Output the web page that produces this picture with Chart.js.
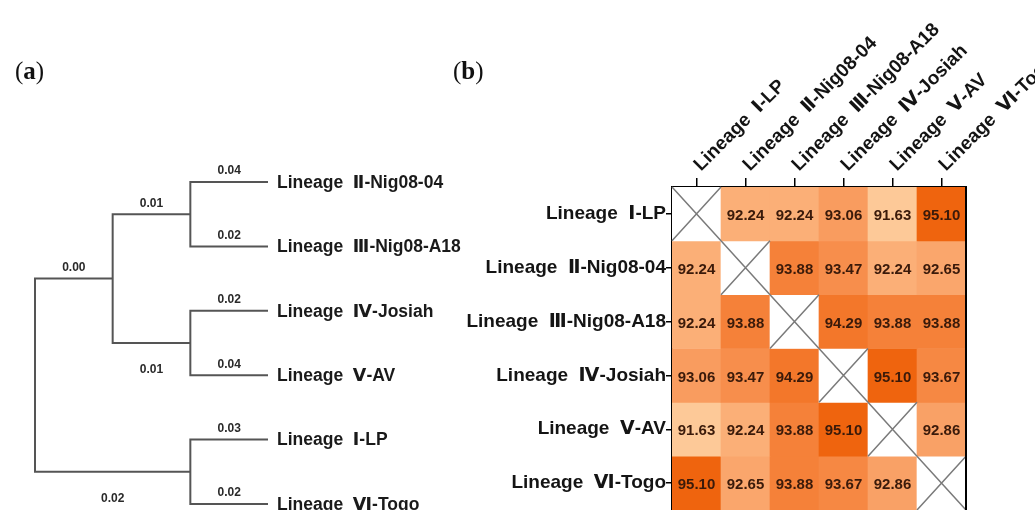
<!DOCTYPE html>
<html>
<head>
<meta charset="utf-8">
<script src="https://cdn.jsdelivr.net/npm/chart.js@4.4.0/dist/chart.umd.min.js"></script>
<style>
  html, body { margin: 0; padding: 0; background: #fff; overflow: hidden; }
  #wrap { position: relative; width: 1035px; height: 510px; }
  canvas { position: absolute; top: 0; }
  #tree { left: 0; }
  #heat { left: 440px; }
</style>
</head>
<body>
<div id="wrap">
  <canvas id="heat" width="595" height="510"></canvas>
  <canvas id="tree" width="480" height="510"></canvas>
</div>
<script>
// ---- panel (a): tree, leaves listed top to bottom ----
const leafNames = ["Lineage  Ⅱ-Nig08-04", "Lineage  Ⅲ-Nig08-A18", "Lineage  Ⅳ-Josiah",
                   "Lineage  Ⅴ-AV", "Lineage  Ⅰ-LP", "Lineage  Ⅵ-Togo"];
const leafBranch = ["0.04", "0.02", "0.02", "0.04", "0.03", "0.02"];
// internal nodes: children ids (L = leaf, N = node) and branch label above it
const cladeChildren = [["L0", "L1"], ["L2", "L3"], ["N0", "N1"], ["L4", "L5"], ["N2", "N3"]];
const cladeBranch = ["0.01", "0.01", "0.00", "0.02", null];

// ---- panel (b): identity matrix ----
const lineages = ["Lineage  Ⅰ-LP", "Lineage  Ⅱ-Nig08-04", "Lineage  Ⅲ-Nig08-A18",
                  "Lineage  Ⅳ-Josiah", "Lineage  Ⅴ-AV", "Lineage  Ⅵ-Togo"];
const rowLP     = [null, 92.24, 92.24, 93.06, 91.63, 95.10];
const rowNig04  = [92.24, null, 93.88, 93.47, 92.24, 92.65];
const rowNigA18 = [92.24, 93.88, null, 94.29, 93.88, 93.88];
const rowJosiah = [93.06, 93.47, 94.29, null, 95.10, 93.67];
const rowAV     = [91.63, 92.24, 93.88, 95.10, null, 92.86];
const rowTogo   = [95.10, 92.65, 93.88, 93.67, 92.86, null];
const identity = [rowLP, rowNig04, rowNigA18, rowJosiah, rowAV, rowTogo];

const SANS = "'Liberation Sans', Arial, 'DejaVu Sans', sans-serif";
const SERIF = "'Liberation Serif', 'DejaVu Serif', serif";

// work out x (height based) and y (mean of children) for every node
const info = {};
function nodeInfo(id) {
  if (info[id]) return info[id];
  let res;
  if (id[0] === "L") {
    const i = +id.slice(1);
    res = { h: 0, y: i, label: leafBranch[i], leaf: true };
  } else {
    const k = +id.slice(1);
    const kids = cladeChildren[k].map(nodeInfo);
    res = {
      h: 1 + Math.max(...kids.map(c => c.h)),
      y: kids.reduce((s, c) => s + c.y, 0) / kids.length,
      label: cladeBranch[k], kids, leaf: false
    };
  }
  info[id] = res;
  return res;
}
const rootId = "N" + (cladeChildren.length - 1);
const maxH = nodeInfo(rootId).h;
const xOf = n => maxH - n.h;

const treeSets = cladeChildren.map((kids, k) => {
  const n = nodeInfo("N" + k);
  const a = nodeInfo(kids[0]), b = nodeInfo(kids[1]);
  return {
    data: [
      { x: xOf(a), y: a.y }, { x: xOf(n), y: a.y },
      { x: xOf(n), y: b.y }, { x: xOf(b), y: b.y }
    ],
    showLine: true, pointRadius: 0, borderColor: "#555", borderWidth: 2,
    clip: false, tension: 0
  };
});

function panelTag(ctx, letter, x) {
  ctx.textAlign = "left";
  ctx.textBaseline = "alphabetic";
  ctx.fillStyle = "#111";
  ctx.font = "25px " + SERIF;
  ctx.fillText("(", x, 79);
  let w = ctx.measureText("(").width;
  ctx.font = "bold 25px " + SERIF;
  ctx.fillText(letter, x + w, 79);
  w += ctx.measureText(letter).width;
  ctx.font = "25px " + SERIF;
  ctx.fillText(")", x + w, 79);
}

const treeText = {
  id: "treeText",
  afterDatasetsDraw(chart) {
    const { ctx, scales: { x, y } } = chart;
    ctx.save();
    ctx.fillStyle = "#2a2a2a";
    ctx.textAlign = "center";
    ctx.textBaseline = "middle";
    ctx.font = "bold 12px " + SANS;
    cladeChildren.forEach((kids, k) => {
      const n = nodeInfo("N" + k);
      kids.forEach((id, ci) => {
        const c = nodeInfo(id);
        const px = x.getPixelForValue((xOf(n) + xOf(c)) / 2);
        const py = y.getPixelForValue(c.y);
        const dy = (!c.leaf && ci === 1) ? 27 : -11;
        ctx.fillText(c.label, px, py + dy);
      });
    });
    ctx.textAlign = "left";
    ctx.font = "bold 17.5px " + SANS;
    ctx.fillStyle = "#1a1a1a";
    leafNames.forEach((name, i) => {
      ctx.fillText(name, x.getPixelForValue(maxH) + 9, y.getPixelForValue(i) + 1);
    });
    panelTag(ctx, "a", 15);
    ctx.restore();
  }
};

new Chart(document.getElementById("tree"), {
  type: "scatter",
  data: { datasets: treeSets },
  options: {
    responsive: false,
    animation: false,
    layout: { padding: { left: 35, right: 212, top: 182, bottom: 6 } },
    plugins: { legend: { display: false }, tooltip: { enabled: false } },
    scales: {
      x: { type: "linear", min: 0, max: maxH, display: false },
      y: { type: "linear", min: 0, max: leafNames.length - 1, reverse: true, display: false }
    }
  },
  plugins: [treeText]
});

// ---- heat map ----
const colorStops = [
  [91.6, [253, 202, 154]],
  [92.2, [251, 176, 120]],
  [93.0, [249, 158, 98]],
  [93.9, [245, 128, 56]],
  [95.1, [239, 100, 14]]
];
function cellColor(v) {
  if (v === null) return "#ffffff";
  if (v <= colorStops[0][0]) return "rgb(" + colorStops[0][1].join(",") + ")";
  for (let i = 1; i < colorStops.length; i++) {
    const [v1, c1] = colorStops[i];
    const [v0, c0] = colorStops[i - 1];
    if (v <= v1) {
      const t = (v - v0) / (v1 - v0);
      const c = c0.map((a, j) => Math.round(a + (c1[j] - a) * t));
      return "rgb(" + c.join(",") + ")";
    }
  }
  return "rgb(" + colorStops[colorStops.length - 1][1].join(",") + ")";
}

const heatSets = identity.map((row, i) => ({
  data: row.map(() => [i, i + 1]),
  backgroundColor: row.map(cellColor),
  borderWidth: 0,
  grouped: false,
  categoryPercentage: 1,
  barPercentage: 1
}));

const heatText = {
  id: "heatText",
  afterDatasetsDraw(chart) {
    const { ctx, chartArea } = chart;
    ctx.save();
    ctx.textAlign = "center";
    ctx.textBaseline = "middle";
    identity.forEach((row, i) => {
      const meta = chart.getDatasetMeta(i);
      row.forEach((v, j) => {
        const bar = meta.data[j];
        const top = Math.min(bar.y, bar.base), bot = Math.max(bar.y, bar.base);
        const l = bar.x - bar.width / 2, r = bar.x + bar.width / 2;
        if (v === null) {
          ctx.strokeStyle = "#7a7a7a";
          ctx.lineWidth = 1.5;
          ctx.beginPath();
          ctx.moveTo(l, top); ctx.lineTo(r, bot);
          ctx.moveTo(r, top); ctx.lineTo(l, bot);
          ctx.stroke();
        } else {
          ctx.fillStyle = "#3a1a0a";
          ctx.font = "bold 15px " + SANS;
          ctx.fillText(v.toFixed(2), bar.x, (top + bot) / 2 + 2);
        }
      });
    });
    // right side of the frame
    ctx.strokeStyle = "#000";
    ctx.lineWidth = 2;
    ctx.beginPath();
    ctx.moveTo(chartArea.right, chartArea.top - 1);
    ctx.lineTo(chartArea.right, chartArea.bottom);
    ctx.stroke();
    panelTag(ctx, "b", 13);
    ctx.restore();
  }
};

new Chart(document.getElementById("heat"), {
  type: "bar",
  data: { labels: lineages, datasets: heatSets },
  options: {
    responsive: false,
    animation: false,
    layout: { padding: { left: 0, right: 69, top: 0, bottom: 0 } },
    plugins: { legend: { display: false }, tooltip: { enabled: false } },
    scales: {
      x: {
        type: "category",
        position: "top",
        offset: true,
        grid: { offset: false, drawOnChartArea: false, drawTicks: true, tickLength: 9, color: "#000", lineWidth: 1.5 },
        border: { display: true, color: "#000", width: 2 },
        ticks: {
          autoSkip: false, minRotation: 45, maxRotation: 45, padding: 2, labelOffset: 17,
          color: "#141414", font: { family: SANS, size: 19, weight: "bold" }
        },
        afterFit(scale) {
          scale.height = 187;
          scale.paddingLeft = 0; scale.paddingRight = 0;
          scale.paddingTop = 0; scale.paddingBottom = 0;
        }
      },
      y: {
        type: "linear",
        min: 0, max: lineages.length, reverse: true,
        afterBuildTicks(scale) {
          scale.ticks = lineages.map((_, i) => ({ value: i + 0.5 }));
        },
        grid: { drawOnChartArea: false, drawTicks: true, tickLength: 6, color: "#000", lineWidth: 1.5 },
        border: { display: true, color: "#000", width: 2 },
        ticks: {
          autoSkip: false, padding: 0,
          color: "#141414", font: { family: SANS, size: 19, weight: "bold" },
          callback: (value, index) => lineages[index]
        },
        afterFit(scale) {
          scale.width = 232;
          scale.paddingTop = 0; scale.paddingBottom = 0;
          scale.paddingLeft = 0; scale.paddingRight = 0;
        }
      }
    }
  },
  plugins: [heatText]
});
</script>
</body>
</html>
